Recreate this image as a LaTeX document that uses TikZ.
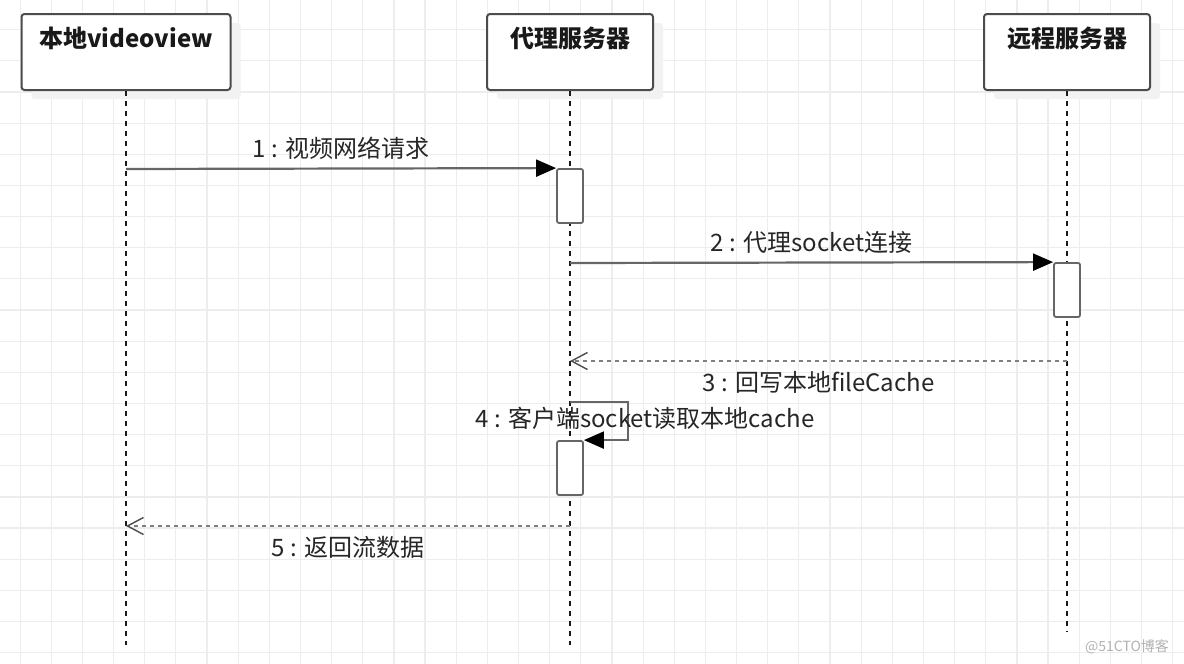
\documentclass[tikz,border=0pt]{standalone}
\usepackage{fontspec}
\setmainfont{Noto Sans CJK SC}
\usetikzlibrary{arrows.meta,shadows}
\tikzstyle{gridline}   = [draw=black!7, line width=0.6pt]
\tikzstyle{actor}      = [rectangle, draw=black!70, line width=1pt, rounded corners=1.5pt, fill=white, minimum height=38pt, drop shadow={shadow xshift=5pt, shadow yshift=-4.5pt, fill=black!5, opacity=1}]
\tikzstyle{actortext}  = [font=\bfseries\fontsize{12}{14}\selectfont, text=black!90]
\tikzstyle{activation} = [rectangle, draw=black!60, line width=0.9pt, rounded corners=1pt, fill=white, minimum width=13pt, minimum height=27pt, inner sep=0pt]
\tikzstyle{lifeline}   = [draw=black!90, line width=0.9pt, dash pattern=on 2.5pt off 2.5pt]
\tikzstyle{call}       = [draw=black!60, line width=1.1pt, -{Triangle[length=10pt, width=8.5pt, color=black]}]
\tikzstyle{reply}      = [draw=black!50, line width=1.1pt, dash pattern=on 2pt off 2pt, -{Straight Barb[length=8pt, width=8.5pt, line width=0.7pt, color=black!70]}]
\tikzstyle{msgtext}    = [font=\fontsize{12}{14}\selectfont, text=black!85, inner sep=0pt]

\begin{document}
\begin{tikzpicture}[x=0.5pt, y=-0.5pt]
            \useasboundingbox[fill=white] (0,0) rectangle (1184,664);
            % background grid
            \foreach \i in {0,...,37} \path[gridline] ({20.1+31.15*\i},0) -- ++(0,664);
            \foreach \j in {1,...,21} \path[gridline] (0,{-1.5+31.15*\j}) -- ++(1184,0);

            \node[actor, minimum width=104.5pt] (local) at (126,52) {};
            \node[actor, minimum width=83pt, right of=local, node distance=222pt] (proxy) {};
            \node[actor, minimum width=83pt, right of=proxy, node distance=248.5pt] (remote) {};
            \node[actortext] (localtext)  at ([yshift=-12.5pt]local.north)  {本地videoview};
            \node[actortext] (proxytext)  at ([yshift=-12.5pt]proxy.north)  {代理服务器};
            \node[actortext] (remotetext) at ([yshift=-12.5pt]remote.north) {远程服务器};

            \coordinate (localend)  at (126,645);
            \coordinate (proxyend)  at (570,645);
            \coordinate (remoteend) at (1067,632);
            \path[lifeline] (local)  -- (localend);
            \path[lifeline] (proxy)  -- (proxyend);
            \path[lifeline] (remote) -- (remoteend);

            \node[activation] (act1) at (570,196) {};
            \node[activation] (act2) at (1067,290) {};
            \node[activation] (act3) at (570,468) {};

            \coordinate (request)   at (126,169);
            \coordinate (connect)   at (570,263);
            \coordinate (writeback) at (1067,361);
            \coordinate (cachein)   at (570,361);
            \coordinate (readstart) at (570,402);
            \coordinate (streamout) at (570,526);
            \coordinate (streamin)  at (126,526);

            \path[call]  (request)   -- node[msgtext, above=4pt] (lbl1) {1 : 视频网络请求} (act1.north west);
            \path[call]  (connect)   -- node[msgtext, above=4pt] (lbl2) {2 : 代理socket连接} (act2.north west);
            \path[reply] (writeback) -- node[msgtext, below=4.5pt] (lbl3) {3 : 回写本地fileCache} (cachein);
            \path[call]  (readstart) -- ++(58,0) |- (act3.north east);
            \node[msgtext] (lbl4) at (645,418) {4 : 客户端socket读取本地cache};
            \path[reply] (streamout) -- node[msgtext, below=4.5pt] (lbl5) {5 : 返回流数据} (streamin);

            \node[font=\fontsize{7}{8}\selectfont, text=black!30, anchor=east] (mark) at (1176,647) {@51CTO博客};
        \end{tikzpicture}
\end{document}
